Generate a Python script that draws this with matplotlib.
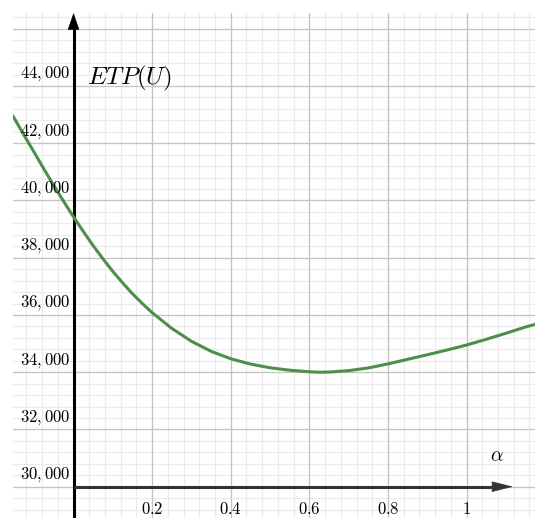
"""ETP(U) against alpha, drawn in a GeoGebra-like style."""

from __future__ import annotations

import matplotlib

matplotlib.use("Agg")

import matplotlib.pyplot as plt
import numpy as np
from matplotlib.axes import Axes
from matplotlib.figure import Figure

# curve, alpha vs ETP(U)
alpha = [
    -0.154, -0.125, -0.10, -0.075, -0.05, -0.025, 0.0, 0.025, 0.05, 0.075,
    0.10, 0.125, 0.15, 0.175, 0.20, 0.25, 0.30, 0.35, 0.40, 0.45,
    0.50, 0.55, 0.60, 0.625, 0.65, 0.70, 0.75, 0.80, 0.85, 0.90,
    0.95, 1.00, 1.05, 1.10, 1.15, 1.174,
]
etp = [
    42950, 42260, 41680, 41090, 40520, 39965, 39425, 38915, 38420, 37960,
    37520, 37120, 36740, 36400, 36080, 35530, 35080, 34730, 34470, 34285,
    34155, 34070, 34015, 34000, 34005, 34055, 34150, 34290, 34450, 34610,
    34775, 34950, 35150, 35360, 35580, 35670,
]

x_ticks = [0.2, 0.4, 0.6, 0.8, 1.0]
x_tick_labels = ["0.2", "0.4", "0.6", "0.8", "1"]
y_ticks = [30000, 32000, 34000, 36000, 38000, 40000, 42000, 44000]
y_tick_labels = [f"{v // 1000},000" for v in y_ticks]

X_MIN, X_MAX = -0.154, 1.174
Y_MIN, Y_MAX = 28906, 46551
W, H = 550, 532


def main() -> None:
    plt.rcParams["mathtext.fontset"] = "cm"
    fig: Figure = plt.figure(figsize=(W / 100, H / 100), dpi=100)
    ax: Axes = fig.add_axes((13 / W, 14 / H, 522 / W, 505 / H))
    ax.set_xlim(X_MIN, X_MAX)
    ax.set_ylim(Y_MIN, Y_MAX)
    ax.set_axis_off()

    # grid
    for x in np.arange(-0.12, X_MAX, 0.04):
        ax.axvline(x, color="#ebebeb", lw=0.8, zorder=0)
    for y in np.arange(29200, Y_MAX, 400):
        ax.axhline(y, color="#ebebeb", lw=0.8, zorder=0)
    for x in np.arange(0.2, X_MAX, 0.2):
        ax.axvline(x, color="#c4c4c4", lw=0.9, zorder=1)
    for y in np.arange(30000, Y_MAX, 2000):
        ax.axhline(y, color="#c4c4c4", lw=0.9, zorder=1)

    # axes with arrows
    ax.plot([0, 0], [Y_MIN, 46150], color="black", lw=2.2, zorder=3,
            solid_capstyle="butt")
    ax.annotate("", xy=(0, Y_MAX), xytext=(0, 45600),
                arrowprops=dict(arrowstyle="-|>,head_length=1.1,head_width=0.38",
                                color="black", lw=0.5, shrinkA=0, shrinkB=0,
                                mutation_scale=10), zorder=3)
    ax.plot([0, 1.08], [30000, 30000], color="#333333", lw=2.2, zorder=3,
            solid_capstyle="butt")
    ax.annotate("", xy=(1.118, 30000), xytext=(1.05, 30000),
                arrowprops=dict(arrowstyle="-|>,head_length=1.4,head_width=0.35",
                                color="#333333", lw=0.5, shrinkA=0, shrinkB=0,
                                mutation_scale=10), zorder=3)

    ax.plot(alpha, etp, color="#4b8f4b", lw=2.2, zorder=4,
            solid_capstyle="round", solid_joinstyle="round")

    for x, lab in zip(x_ticks, x_tick_labels, strict=True):
        ax.text(x, 29230, f"${lab}$", ha="center", va="center",
                fontsize=12, zorder=5)
    for y, lab in zip(y_ticks, y_tick_labels, strict=True):
        ax.text(-0.008, y + 90, f"${lab}$", ha="right", va="bottom",
                fontsize=12, zorder=5)

    ax.text(0.035, 44250, r"$ETP(U)$", ha="left", va="center", fontsize=18,
            zorder=5)
    ax.text(1.078, 31080, r"$\alpha$", ha="center", va="center", fontsize=14,
            zorder=5)

    fig.savefig("out.png", dpi=100)
    plt.close(fig)


if __name__ == "__main__":
    main()
